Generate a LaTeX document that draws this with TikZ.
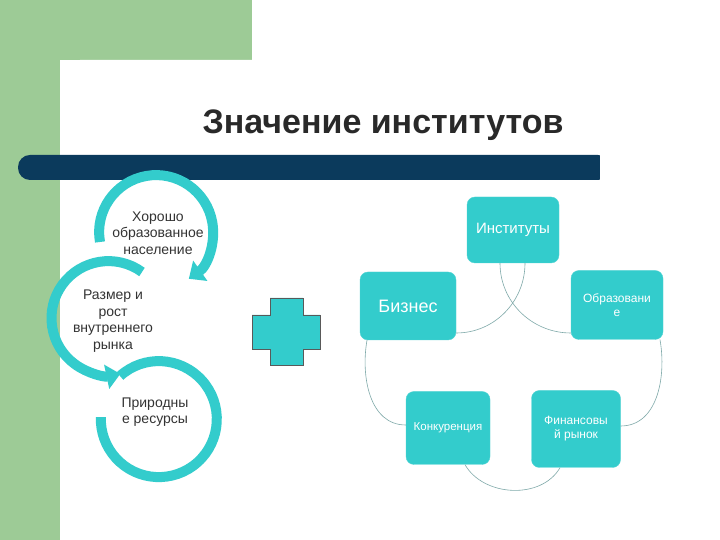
\documentclass[tikz,border=0pt]{standalone}
\usepackage{fontspec}
\setmainfont{Liberation Sans}
\usetikzlibrary{arrows.meta,calc}
\definecolor{grn}{HTML}{9DCB96}
\definecolor{navy}{HTML}{0B3A5C}
\definecolor{teal}{HTML}{33CCCC}
\definecolor{lin}{HTML}{7FA9A9}
\definecolor{txt}{HTML}{333333}
\begin{document}
\begin{tikzpicture}[x=1pt,y=1pt,
  box/.style={fill=teal,draw=teal!85!white,rounded corners=8pt,text=white,align=center,inner sep=1pt},
  ring/.style={draw=teal,line width=10pt},
  tip/.style={-{Triangle[width=24pt,length=14pt]}},
  lab/.style={text=txt,align=center,font=\fontsize{14}{16.5}\selectfont},
  conn/.style={draw=lin,line width=0.6pt}]
\useasboundingbox (0,0) rectangle (720,540);
\fill[grn] (0,0) rectangle (60,540);
\fill[grn] (0,480) rectangle (252,540);
\fill[white] (60,0) -- (60,460) arc[start angle=180,end angle=90,radius=20] -- (720,480) -- (720,0) -- cycle;
\fill[navy,rounded corners=12pt] (18,360) rectangle (610,385);
\fill[white] (600,355) rectangle (620,390);
\node[font=\bfseries\fontsize{34}{38}\selectfont,text=txt!80!black] (title) at (383,415) {Значение институтов};
% left rings
\draw[ring,tip] (100,298) arc[start angle=190,end angle=-55,radius=57];
\draw[ring,tip] (142,268) arc[start angle=54,end angle=282,radius=57];
\draw[ring] (120,164) arc[start angle=132,end angle=-182,radius=58];
\node[lab] (c1) at (158,307) {Хорошо\\образованное\\население};
\node[lab] (c2) at (113,219) {Размер и\\рост\\внутреннего\\рынка};
\node[lab] (c3) at (155,128) {Природны\\е ресурсы};
% plus
\filldraw[fill=teal,draw=gray!70!black,line width=0.6pt]
 (270,242) -- (270,225) -- (252,225) -- (252,191) -- (270,191) -- (270,175) -- (303,175) -- (303,191) -- (320,191) -- (320,225) -- (303,225) -- (303,242) -- cycle;
% boxes
\node[box,minimum width=92pt,minimum height=66pt,font=\fontsize{15}{17}\selectfont] (inst) at (513,310) {Институты};
\node[box,minimum width=96pt,minimum height=68pt,font=\fontsize{18}{20}\selectfont] (biz) at (408,234) {Бизнес};
\node[box,minimum width=92pt,minimum height=69pt,font=\fontsize{12}{14}\selectfont] (obr) at (617,235) {Образовани\\е};
\node[box,minimum width=84pt,minimum height=73pt,font=\fontsize{11.5}{13}\selectfont] (konk) at (448,112) {Конкуренция};
\node[box,minimum width=89pt,minimum height=77pt,font=\fontsize{12}{14}\selectfont] (fin) at (576,111) {Финансовы\\й рынок};
% connectors
\draw[conn] ([xshift=-13pt]inst.south) to[out=-90,in=180] ([yshift=-28pt]obr.west);
\draw[conn] ([xshift=12pt]inst.south) to[out=-90,in=0] ([yshift=-27pt]biz.east);
\draw[conn] ([xshift=-41pt]biz.south) to[out=-100,in=180] ([yshift=3pt]konk.west);
\draw[conn] ([xshift=17pt]konk.south) to[out=-60,in=-120] ([xshift=-16pt]fin.south);
\draw[conn] ([xshift=43pt]obr.south) to[out=-80,in=0] ([yshift=3pt]fin.east);
\end{tikzpicture}
\end{document}
